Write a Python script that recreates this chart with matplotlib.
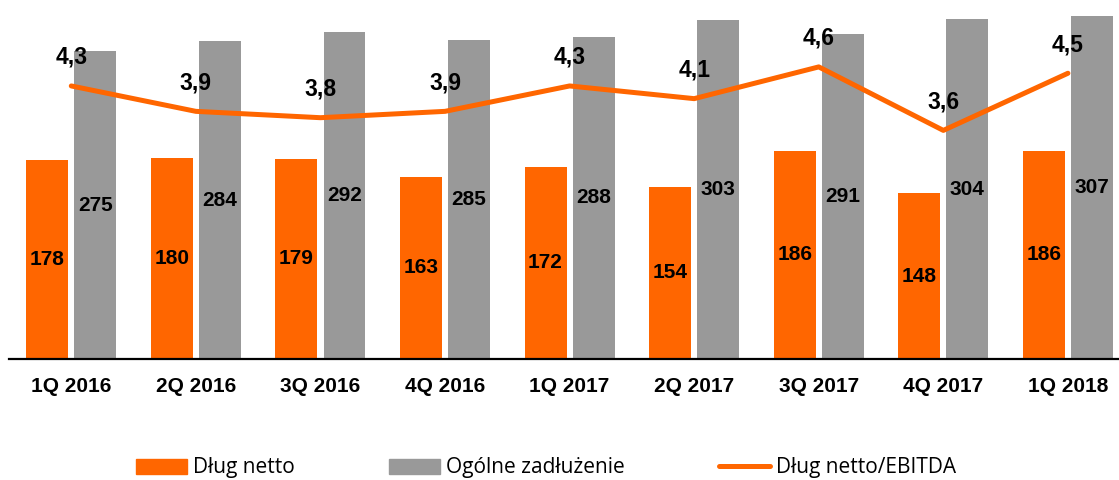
import numpy as np
import matplotlib
matplotlib.use('Agg')
import matplotlib.pyplot as plt
from matplotlib.patches import Patch
from matplotlib.lines import Line2D

# dane z wykresu
quarters = ['1Q 2016', '2Q 2016', '3Q 2016', '4Q 2016', '1Q 2017',
            '2Q 2017', '3Q 2017', '4Q 2017', '1Q 2018']
net_debt = [178, 180, 179, 163, 172, 154, 186, 148, 186]
total_debt = [275, 284, 292, 285, 288, 303, 291, 304, 307]
ratio = [4.3, 3.9, 3.8, 3.9, 4.3, 4.1, 4.6, 3.6, 4.5]

orange = '#FF6600'
grey = '#999999'

fig = plt.figure(figsize=(11.19, 4.8), dpi=100)
ax = fig.add_axes([9 / 1119, 1 - 359 / 480, 1110 / 1119, 359 / 480])
ax2 = ax.twinx()

x = np.arange(len(quarters))
w = 0.337
off = 0.193

ax.bar(x - off, net_debt, w, color=orange, zorder=2)
ax.bar(x + off, total_debt, w, color=grey, zorder=2)

lab_font = dict(family='Liberation Sans', weight='bold', fontsize=15)
for xi, v in zip(x, net_debt):
    ax.text(xi - off, v / 2, str(v), ha='center', va='center', **lab_font)
for xi, v in zip(x, total_debt):
    ax.text(xi + off, v / 2, str(v), ha='center', va='center', **lab_font)

ax.set_xlim(-0.5, 8.41)
ax.set_ylim(0, 321)
ax.set_yticks([])
ax.set_xticks(x)
ax.set_xticklabels(quarters, **lab_font)
ax.tick_params(axis='x', length=0, pad=13)
for s in ['top', 'right', 'left']:
    ax.spines[s].set_visible(False)
ax.spines['bottom'].set_linewidth(1.6)
ax.spines['bottom'].set_color('black')

# linia dług netto / EBITDA
ax2.plot(x, ratio, color=orange, lw=3.6, solid_capstyle='round',
         solid_joinstyle='round', zorder=3)
for xi, v in zip(x, ratio):
    ax2.annotate(f'{v:.1f}'.replace('.', ','), (xi, v), xytext=(0, 20.5),
                 textcoords='offset points', ha='center', va='center',
                 family='Liberation Sans', weight='bold', fontsize=16.5)
ax2.set_ylim(0, 359 / 63.5)
ax2.set_yticks([])
for s in ax2.spines.values():
    s.set_visible(False)

handles = [Patch(color=orange), Patch(color=grey),
           Line2D([0], [0], color=orange, lw=3.6, solid_capstyle='round')]
labels = ['Dług netto', 'Ogólne zadłużenie', 'Dług netto/EBITDA']
fig.legend(handles, labels, loc='center', bbox_to_anchor=(546 / 1119, 0.025),
           ncol=3, frameon=False, prop={'family': 'Open Sans', 'size': 15},
           handlelength=2.45, handleheight=0.7, handletextpad=0.3,
           columnspacing=4.5, borderpad=0)

fig.savefig('out.png', dpi=100)
